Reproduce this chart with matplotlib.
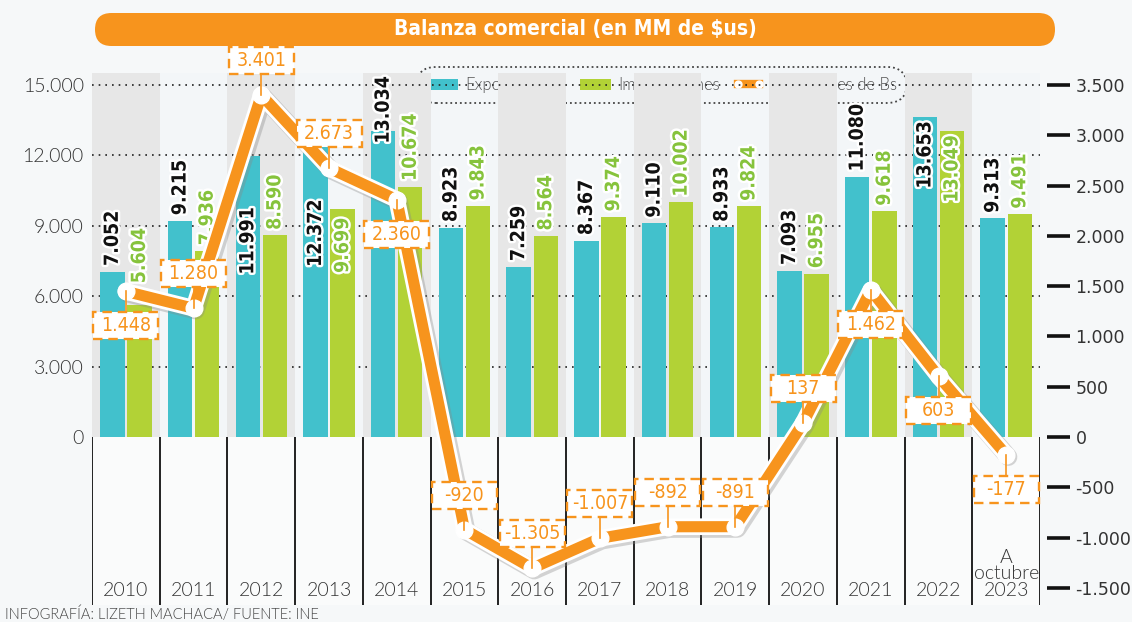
import numpy as np
import matplotlib
matplotlib.use("Agg")
import matplotlib.pyplot as plt
import matplotlib.patheffects as pe
from matplotlib.patches import FancyBboxPatch, Patch, Rectangle
from matplotlib.lines import Line2D
from matplotlib.transforms import IdentityTransform, ScaledTranslation

# datos (millones de $us)
years = ["2010", "2011", "2012", "2013", "2014", "2015", "2016", "2017", "2018",
         "2019", "2020", "2021", "2022", "A\noctubre\n2023"]
exportaciones = [7052, 9215, 11991, 12372, 13034, 8923, 7259, 8367, 9110, 8933,
                 7093, 11080, 13653, 9313]
importaciones = [5604, 7936, 8590, 9699, 10674, 9843, 8564, 9374, 10002, 9824,
                 6955, 9618, 13049, 9491]
saldo = [1448, 1280, 3401, 2673, 2360, -920, -1305, -1007, -892, -891, 137,
         1462, 603, -177]
legend_labels = ["Exportaciones", "Importaciones", "En millones de Bs"]

# where labels go (layout only, offsets in points)
exp_inside = [2, 3, 12]
imp_inside = [3, 12]
exp_shift = {2: -37, 3: -38, 4: -9}
imp_shift = {0: 16, 3: -6}
saldo_below = [0, 4, 11, 12, 13]

TEAL = "#42c1cc"
GREEN = "#b2d236"
GREEN_TXT = "#86c33c"
ORANGE = "#f7941d"
GRAY_BAND = "#e7e7e7"
LIGHT_BAND = "#f3f6f8"
BG = "#f6f8f9"
LOWER = "#fafbfb"
LIGHT_FONT = dict(family="Lato", weight=300)
COND = dict(family="DejaVu Sans", stretch="condensed")


def fmt(v):
    return f"{v:,}".replace(",", ".")


fig = plt.figure(figsize=(11.32, 6.22), dpi=100, facecolor=BG)
ax = fig.add_axes([0.0813, 0.0273, 0.8375, 0.8553])
ax.set_facecolor(LIGHT_BAND)
ylo, yhi = -7158, 15509
ax.set_ylim(ylo, yhi)

x = np.arange(len(years))

# column bands
for i in x:
    if i % 2 == 0:
        ax.fill_between([i - 0.5, i + 0.5], 0, yhi, color=GRAY_BAND, lw=0, zorder=1)
ax.axhspan(ylo, 0, color=LOWER, lw=0, zorder=0.6)
ax.vlines(np.arange(-0.5, 14, 1), ylo, 0, color="#111", lw=1.3, zorder=2)

# dotted grid
ax.hlines(range(3000, 15001, 3000), -0.5, 13.5, color="#222", lw=1.2,
          linestyles=(0, (1, 3)), zorder=1.5)

ax.bar(x - 0.2, exportaciones, 0.36, color=TEAL, zorder=3)
ax.bar(x + 0.2, importaciones, 0.36, color=GREEN, zorder=3)

stroke = [pe.withStroke(linewidth=3.5, foreground="white")]
for i, v in enumerate(exportaciones):
    inside = i in exp_inside
    off = exp_shift.get(i, -3 if inside else 4)
    ax.annotate(fmt(v), (i - 0.2, v), xytext=(0, off),
                textcoords="offset points", rotation=90, ha="center",
                va="top" if inside else "bottom", fontsize=14, fontweight="bold",
                color="#111", path_effects=stroke, zorder=4, **COND)
for i, v in enumerate(importaciones):
    inside = i in imp_inside
    off = imp_shift.get(i, -3 if inside else 4)
    ax.annotate(fmt(v), (i + 0.2, v), xytext=(0, off),
                textcoords="offset points", rotation=90, ha="center",
                va="top" if inside else "bottom", fontsize=14, fontweight="bold",
                color=GREEN_TXT, path_effects=stroke, zorder=4, **COND)

# year labels
for i, y in enumerate(years):
    ax.text(i, 0.012, y, transform=ax.get_xaxis_transform(), ha="center",
            va="bottom", fontsize=14, color="#333", linespacing=0.95, **LIGHT_FONT)

ax.set_xticks([])
ax.set_yticks(range(0, 15001, 3000))
ax.set_yticklabels([fmt(v) for v in range(0, 15001, 3000)], **LIGHT_FONT)
ax.tick_params(axis="y", length=0, pad=6, labelsize=14, labelcolor="#333")
for s in ax.spines.values():
    s.set_visible(False)

# legend, partly hidden by the gray columns
handles = [Patch(fc=TEAL), Patch(fc=GREEN),
           Line2D([], [], color=ORANGE, lw=6, marker="o", mfc="white",
                  mec="white", ms=5)]
leg = ax.legend(handles, legend_labels, loc="center", bbox_to_anchor=(0.601, 0.977),
                ncol=3, handlelength=1.9, handleheight=0.7, handletextpad=0.4,
                columnspacing=0.8, borderpad=0.6, labelcolor="#555",
                framealpha=1, fancybox=True, numpoints=2,
                prop=dict(family="Lato", weight=300, size=12))
frame = leg.get_frame()
frame.set_boxstyle("round,pad=0,rounding_size=1.2")
frame.set_facecolor(LIGHT_BAND)
frame.set_edgecolor("#444")
frame.set_linestyle(":")
frame.set_linewidth(1.3)
leg.set_zorder(0.8)

# balanza (eje derecho)
ax2 = ax.twinx()
ax2.plot(x, saldo, color=ORANGE, lw=8, solid_joinstyle="round",
         solid_capstyle="round", zorder=3,
         path_effects=[pe.SimpleLineShadow(offset=(1.5, -1.5), shadow_color="#888",
                                           alpha=0.35, linewidth=13),
                       pe.Stroke(linewidth=12, foreground="white"), pe.Normal()])
ax2.plot(x, saldo, "o", ms=12, mfc="white", mec="white", zorder=4)
ax2.set_ylim(-1670, 3619)
ax2.set_xlim(-0.5, 13.5)

# dashed value boxes, fixed size in inches, offset from each point
bw, bh = 0.65, 0.27
for i, v in enumerate(saldo):
    sign = -1 if i in saldo_below else 1
    dy = sign * 0.345
    tr = fig.dpi_scale_trans + ScaledTranslation(i, v, ax2.transData)
    ax2.add_line(Line2D([0, 0], [0, dy - sign * bh / 2], transform=tr,
                        color=ORANGE, lw=1.2, zorder=4.5, clip_on=False))
    ax2.add_patch(Rectangle((-bw / 2, dy - bh / 2), bw, bh, transform=tr,
                            fc="white", ec=ORANGE, ls=(0, (4, 2.5)), lw=1.7,
                            zorder=5, clip_on=False))
    ax2.text(0, dy, fmt(v), transform=tr, ha="center", va="center",
             fontsize=14, color=ORANGE, zorder=6, clip_on=False, **COND)

ax2.set_yticks(range(-1500, 3501, 500))
ax2.set_yticklabels([fmt(v) for v in range(-1500, 3501, 500)], **LIGHT_FONT)
ax2.spines["right"].set_position(("outward", 5))
for s in ax2.spines.values():
    s.set_visible(False)
ax2.tick_params(axis="y", length=16.5, width=2.6, color="#111", pad=4,
                labelsize=12.5, labelcolor="#333")

# title banner
banner = FancyBboxPatch((95, 622 - 46), 960, 33,
                        boxstyle="round,pad=0,rounding_size=16.5",
                        transform=IdentityTransform(), fc=ORANGE, ec="none")
fig.patches.append(banner)
fig.text(575 / 1132, 1 - 29.5 / 622, "Balanza comercial (en MM de $us)",
         ha="center", va="center", fontsize=15, fontweight="bold", color="white",
         **COND)

fig.text(5 / 1132, 1 - 606 / 622, "INFOGRAFÍA: LIZETH MACHACA/ FUENTE: INE",
         ha="left", va="top", fontsize=10.5, color="#444", **LIGHT_FONT)

fig.savefig("out.png", dpi=100, facecolor=BG)
